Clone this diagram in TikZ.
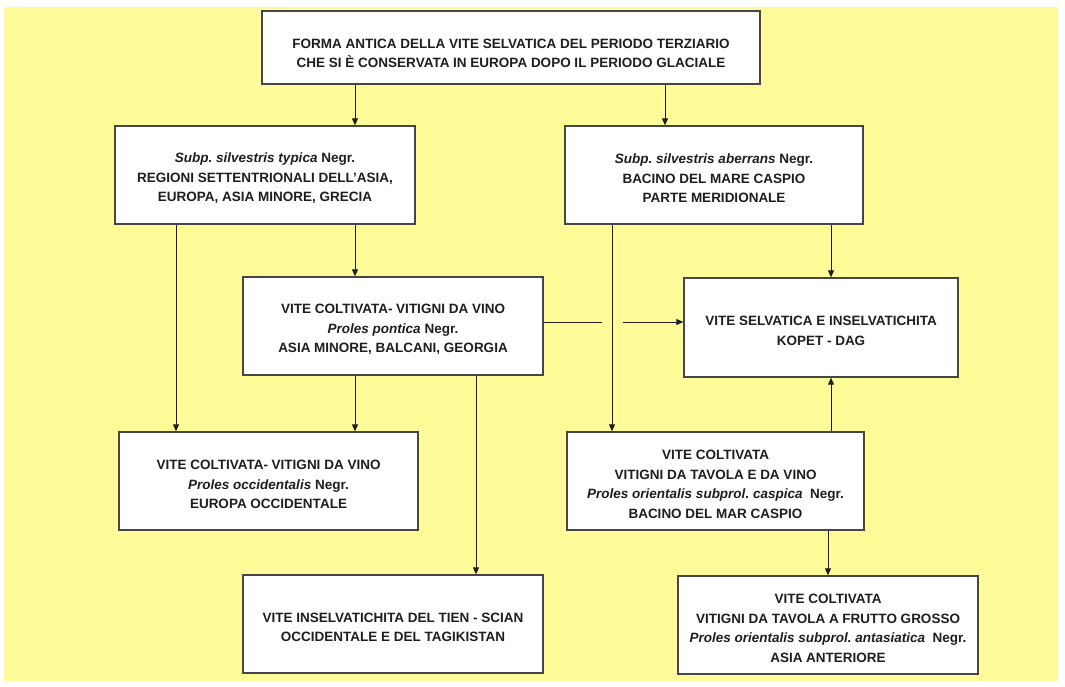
\documentclass[tikz,border=0pt]{standalone}
\usepackage{fontspec}
\setmainfont{Liberation Sans}
\usetikzlibrary{arrows.meta}
\definecolor{bgy}{RGB}{255,251,152}
\definecolor{ink}{RGB}{30,30,30}
\definecolor{frame}{RGB}{70,70,70}
\newcommand{\itx}[1]{{\itshape #1}}
\frenchspacing
\begin{document}
\begin{tikzpicture}[x=1pt,y=-1pt,
  box/.style={draw=frame, line width=1.3pt, fill=white, inner sep=0pt},
  lbl/.style={inner sep=0pt, align=center, yshift=-3.5pt,
    font=\fontsize{13.5}{19.5}\selectfont\bfseries, text=ink},
  wbox/.style={box, minimum width=300pt, minimum height=98pt},
  arr/.style={draw=ink, line width=0.9pt, -{Triangle[length=7pt,width=6pt]}},
  ln/.style={draw=ink, line width=0.9pt}]
\useasboundingbox (0,0) rectangle (1065,686);
\fill[white] (0,0) rectangle (1065,686);
\fill[bgy] (4,7) rectangle (1058,681);

\node[box, minimum width=498pt, minimum height=73pt,
  label={[lbl, yshift=-2.5pt]center:{FORMA ANTICA DELLA VITE SELVATICA DEL PERIODO TERZIARIO\\CHE SI È CONSERVATA IN EUROPA DOPO IL PERIODO GLACIALE}}] (top) at (511,47.5) {};
\node[wbox,
  label={[lbl]center:{\itx{Subp. silvestris typica} Negr.\\REGIONI SETTENTRIONALI DELL'ASIA,\\EUROPA, ASIA MINORE, GRECIA}}] (L) at (265,175) {};
\node[wbox, minimum width=298pt,
  label={[lbl]center:{\itx{Subp. silvestris aberrans} Negr.\\BACINO DEL MARE CASPIO\\PARTE MERIDIONALE}}] (R) at (714,175) {};
\node[wbox,
  label={[lbl]center:{VITE COLTIVATA- VITIGNI DA VINO\\\itx{Proles pontica} Negr.\\ASIA MINORE, BALCANI, GEORGIA}}] (P) at (393,326) {};
\node[box, minimum width=274pt, minimum height=99pt,
  label={[lbl]center:{VITE SELVATICA E INSELVATICHITA\\KOPET - DAG}}] (K) at (821,327.5) {};
\node[wbox, minimum width=299pt,
  label={[lbl]center:{VITE COLTIVATA- VITIGNI DA VINO\\\itx{Proles occidentalis} Negr.\\EUROPA OCCIDENTALE}}] (O) at (268.5,481) {};
\node[wbox, minimum width=297pt,
  label={[lbl]center:{VITE COLTIVATA\\VITIGNI DA TAVOLA E DA VINO\\\itx{Proles orientalis subprol. caspica}\ \ Negr.\\BACINO DEL MAR CASPIO}}] (C) at (715.5,481) {};
\node[wbox,
  label={[lbl]center:{VITE INSELVATICHITA DEL TIEN - SCIAN\\OCCIDENTALE E DEL TAGIKISTAN}}] (T) at (393,624) {};
\node[wbox,
  label={[lbl]center:{VITE COLTIVATA\\VITIGNI DA TAVOLA A FRUTTO GROSSO\\\itx{Proles orientalis subprol. antasiatica}\ \ Negr.\\ASIA ANTERIORE}}] (A) at (828,625) {};

\coordinate (xa) at (355,0);
\coordinate (xb) at (665,0);
\coordinate (xc) at (176,0);
\coordinate (xd) at (476,0);
\coordinate (xe) at (612,0);
\coordinate (xf) at (831,0);
\coordinate (xg) at (828,0);
\coordinate (yh) at (0,322);
\coordinate (g1) at (602,322);
\coordinate (g2) at (623,322);

\draw[arr] (top.south -| xa) -- (L.north -| xa);
\draw[arr] (top.south -| xb) -- (R.north -| xb);
\draw[arr] (L.south -| xa) -- (P.north -| xa);
\draw[arr] (L.south -| xc) -- (O.north -| xc);
\draw[arr] (P.south -| xa) -- (O.north -| xa);
\draw[arr] (P.south -| xd) -- (T.north -| xd);
\draw[ln] (P.east |- yh) -- (g1);
\draw[arr] (g2) -- (K.west |- yh);
\draw[arr] (R.south -| xe) -- (C.north -| xe);
\draw[arr] (R.south -| xf) -- (K.north -| xf);
\draw[arr] (C.north -| xf) -- (K.south -| xf);
\draw[arr] (C.south -| xg) -- (A.north -| xg);
\end{tikzpicture}
\end{document}
